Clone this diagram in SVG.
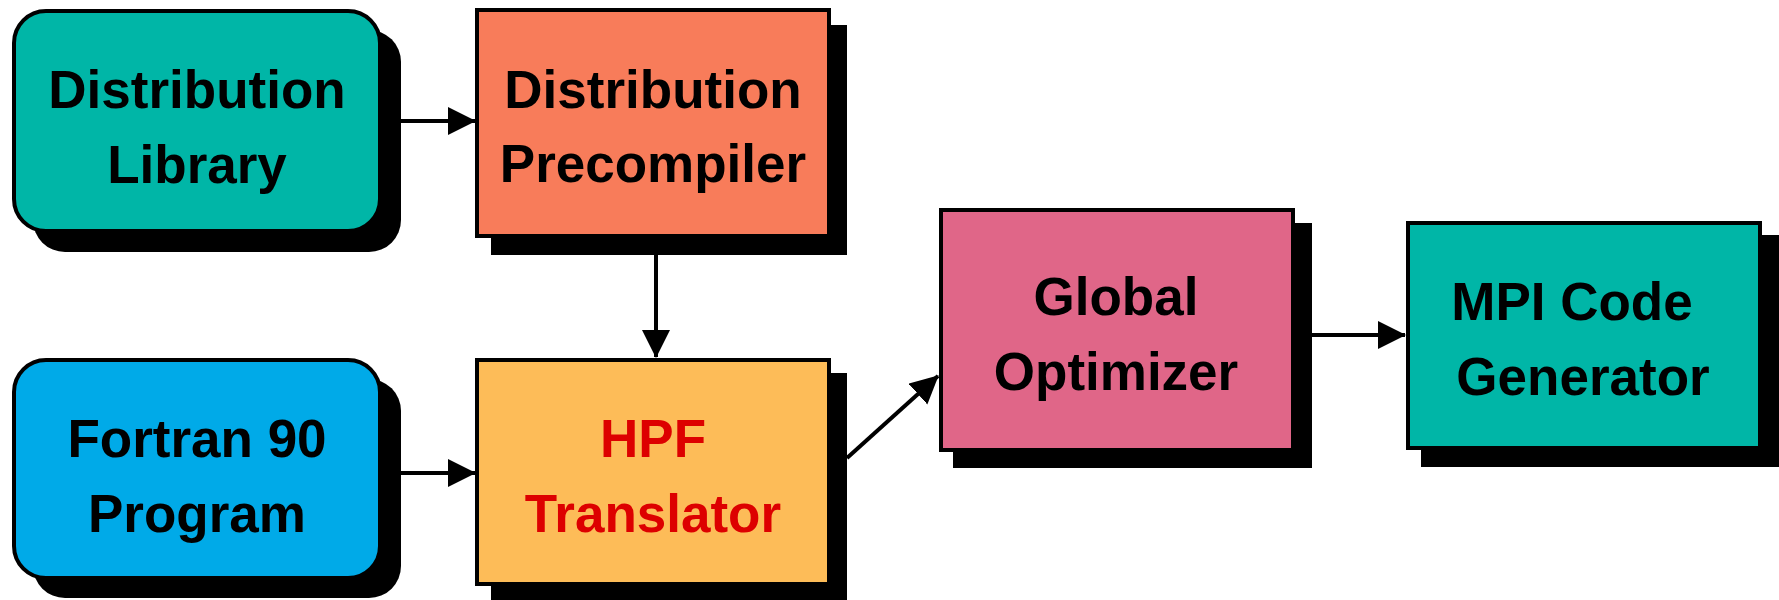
<svg xmlns="http://www.w3.org/2000/svg" width="1779" height="600" viewBox="0 0 1779 600">
  <style>
    .shadow { fill: #000; }
    .box { stroke: #000; stroke-width: 4; }
    .label { font-family: "Liberation Sans", Arial, sans-serif; font-weight: bold; font-size: 53px; text-anchor: middle; fill: #000; }
    .red { fill: #DD0000; }
    .wire { stroke: #000; stroke-width: 4; fill: none; }
  </style>
  <defs>
    <marker id="arrow" markerUnits="userSpaceOnUse" markerWidth="28" markerHeight="30" refX="27" refY="14" orient="auto">
      <path d="M0,0 L28,14 L0,28 Z" fill="#000"/>
    </marker>
  </defs>
  <rect width="1779" height="600" fill="#fff"/>

  <g id="connectors">
    <line class="wire" x1="400" y1="121" x2="475" y2="121" marker-end="url(#arrow)"/>
    <line class="wire" x1="656" y1="255" x2="656" y2="357" marker-end="url(#arrow)"/>
    <line class="wire" x1="400" y1="473" x2="475" y2="473" marker-end="url(#arrow)"/>
    <line class="wire" x1="847" y1="458" x2="938" y2="376" marker-end="url(#arrow)"/>
    <line class="wire" x1="1312" y1="335" x2="1405" y2="335" marker-end="url(#arrow)"/>
  </g>

  <g id="distribution-library">
    <rect class="shadow" x="33" y="30" width="368" height="222" rx="32"/>
    <rect class="box" x="14" y="11" width="366" height="220" rx="32" fill="#00B6A7"/>
    <text class="label" x="197" y="108">Distribution</text>
    <text class="label" x="197" y="183">Library</text>
  </g>

  <g id="fortran-program">
    <rect class="shadow" x="33" y="379" width="368" height="219" rx="32"/>
    <rect class="box" x="14" y="360" width="366" height="218" rx="32" fill="#00AAE8"/>
    <text class="label" x="197" y="457">Fortran 90</text>
    <text class="label" x="197" y="532">Program</text>
  </g>

  <g id="distribution-precompiler">
    <rect class="shadow" x="491" y="25" width="356" height="230"/>
    <rect class="box" x="477" y="10" width="352" height="226" fill="#F87C5A"/>
    <text class="label" x="653" y="108">Distribution</text>
    <text class="label" x="653" y="182">Precompiler</text>
  </g>

  <g id="hpf-translator">
    <rect class="shadow" x="491" y="373" width="356" height="230"/>
    <rect class="box" x="477" y="360" width="352" height="224" fill="#FDBC58"/>
    <text class="label red" x="653" y="457">HPF</text>
    <text class="label red" x="653" y="532">Translator</text>
  </g>

  <g id="global-optimizer">
    <rect class="shadow" x="953" y="223" width="359" height="245"/>
    <rect class="box" x="941" y="210" width="352" height="240" fill="#E06688"/>
    <text class="label" x="1116" y="315">Global</text>
    <text class="label" x="1116" y="390">Optimizer</text>
  </g>

  <g id="mpi-code-generator">
    <rect class="shadow" x="1421" y="235" width="358" height="232"/>
    <rect class="box" x="1408" y="223" width="352" height="225" fill="#00B6A7"/>
    <text class="label" x="1572" y="320">MPI Code</text>
    <text class="label" x="1583" y="395">Generator</text>
  </g>
</svg>
